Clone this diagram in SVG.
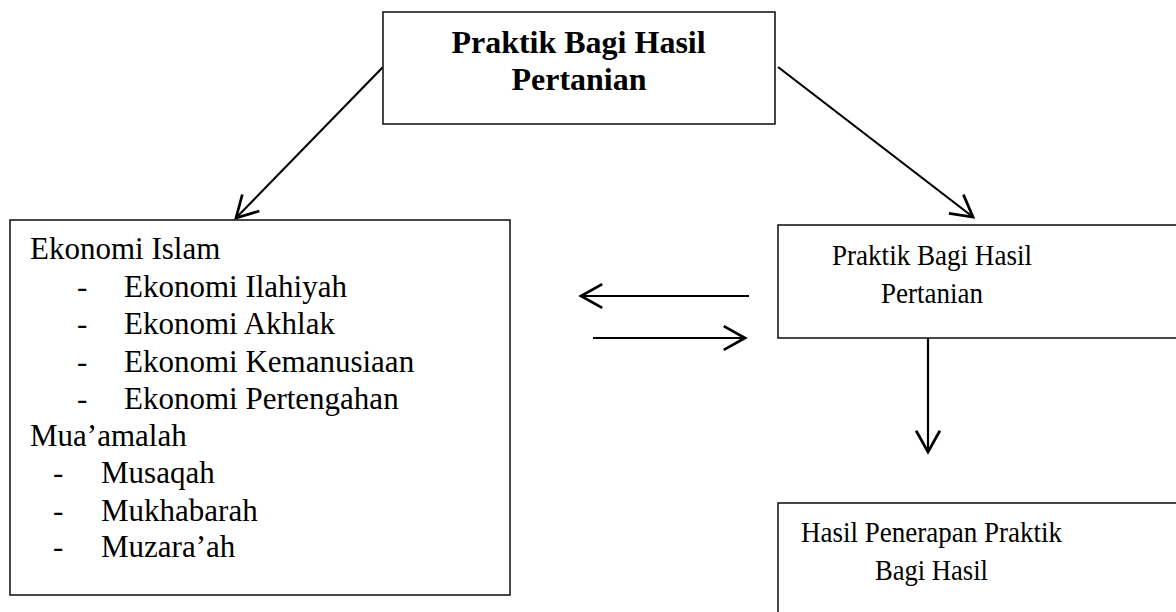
<svg xmlns="http://www.w3.org/2000/svg" width="1176" height="612" viewBox="0 0 1176 612">
<style>
.box{fill:#fff;stroke:#1a1a1a;stroke-width:1.6}
.reg{font-size:31px}
.rt{font-size:30px;text-anchor:middle}
.bold{font-size:32px;font-weight:bold;text-anchor:middle}
.conn{stroke:#000;stroke-width:2.2;fill:none;marker-end:url(#ah)}
</style>
<defs>
<marker id="ah" markerUnits="userSpaceOnUse" markerWidth="30" markerHeight="30" viewBox="-20 -12 24 24" refX="0" refY="0" orient="auto">
<path d="M-17,-9.5 L0,0 L-17,9.5" fill="none" stroke="#000" stroke-width="2.2"/>
</marker>
</defs>
<rect width="1176" height="612" fill="#fff"/>
<g id="connectors">
<line class="conn" x1="383" y1="67" x2="236" y2="218"/>
<line class="conn" x1="778" y1="67" x2="973" y2="217"/>
<line class="conn" x1="749" y1="296" x2="581" y2="296"/>
<line class="conn" x1="593" y1="338" x2="745" y2="338"/>
<line class="conn" x1="928" y1="338" x2="928" y2="452"/>
</g>
<g font-family="Liberation Serif, Times New Roman, DejaVu Serif, serif" fill="#000">
<g id="node-top">
<rect class="box" x="383" y="12" width="392" height="112"/>
<text class="bold" x="578.5" y="53">Praktik Bagi Hasil</text>
<text class="bold" x="579" y="90">Pertanian</text>
</g>
<g id="node-left">
<rect class="box" x="10" y="220" width="500" height="375"/>
<text class="reg" x="30" y="259">Ekonomi Islam</text>
<text class="reg" x="77" y="297">-</text><text class="reg" x="124" y="297">Ekonomi Ilahiyah</text>
<text class="reg" x="77" y="334">-</text><text class="reg" x="124" y="334">Ekonomi Akhlak</text>
<text class="reg" x="77" y="371.5">-</text><text class="reg" x="124" y="371.5">Ekonomi Kemanusiaan</text>
<text class="reg" x="77" y="409">-</text><text class="reg" x="124" y="409">Ekonomi Pertengahan</text>
<text class="reg" x="30" y="446">Mua’amalah</text>
<text class="reg" x="53" y="483">-</text><text class="reg" x="101" y="483">Musaqah</text>
<text class="reg" x="53" y="520.5">-</text><text class="reg" x="101" y="520.5">Mukhabarah</text>
<text class="reg" x="53" y="557">-</text><text class="reg" x="101" y="557">Muzara’ah</text>
</g>
<g id="node-right">
<rect class="box" x="778" y="225" width="420" height="113"/>
<text class="rt" x="932" y="265" textLength="200" lengthAdjust="spacingAndGlyphs">Praktik Bagi Hasil</text>
<text class="rt" x="932" y="303" textLength="102" lengthAdjust="spacingAndGlyphs">Pertanian</text>
</g>
<g id="node-bottom">
<rect class="box" x="778" y="503" width="420" height="130"/>
<text class="rt" x="931.5" y="542" textLength="261" lengthAdjust="spacingAndGlyphs">Hasil Penerapan Praktik</text>
<text class="rt" x="931.5" y="580" textLength="113" lengthAdjust="spacingAndGlyphs">Bagi Hasil</text>
</g>
</g>
</svg>
